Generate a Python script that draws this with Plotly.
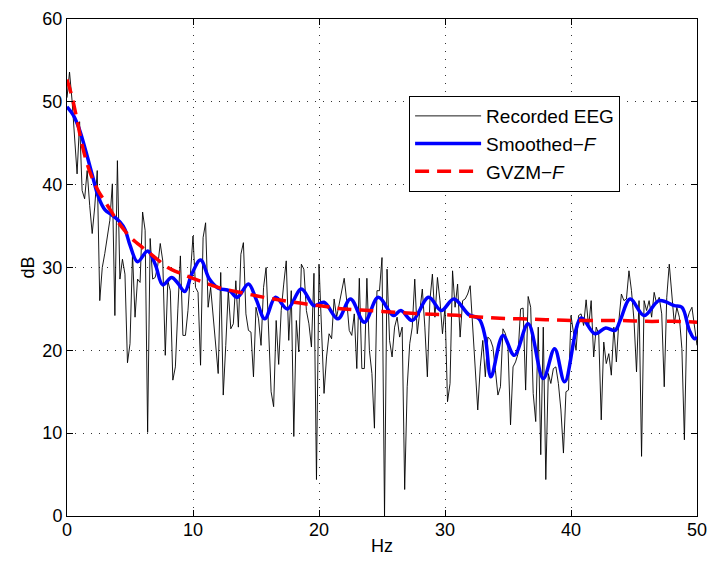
import plotly.graph_objects as go

# Recorded EEG spectrum (dB), sampled every 0.2 Hz from 0 to 50 Hz
eeg_step = 0.2
eeg_db = [
    50.5, 53.6, 50.2, 45.0, 41.3, 47.6, 39.3, 38.3, 41.7, 37.5,
    34.1, 37.3, 41.7, 26.0, 30.0, 31.7, 33.7, 35.7, 40.1, 24.2,
    42.9, 28.6, 31.0, 29.2, 18.5, 20.8, 31.7, 24.0, 28.6, 28.2,
    36.7, 34.5, 10.1, 33.5, 28.6, 28.8, 30.2, 32.9, 30.8, 19.4,
    28.4, 27.2, 16.4, 18.0, 25.0, 31.4, 21.8, 21.8, 24.8, 29.4,
    33.8, 27.6, 27.0, 18.2, 33.6, 35.4, 25.2, 27.6, 24.0, 20.0,
    17.2, 29.4, 14.6, 20.6, 27.2, 22.6, 23.2, 28.4, 22.8, 31.6,
    33.0, 24.4, 22.4, 22.2, 16.8, 25.2, 23.8, 20.6, 27.6, 30.0,
    21.2, 15.0, 13.2, 23.6, 18.3, 24.8, 28.0, 30.8, 21.2, 27.2,
    9.6, 23.6, 19.8, 30.4, 29.8, 24.8, 23.2, 20.4, 29.3, 4.4,
    30.4, 22.8, 14.8, 19.2, 22.0, 21.4, 26.2, 24.0, 25.6, 26.8,
    28.7, 26.0, 22.4, 21.8, 24.4, 17.8, 28.7, 17.8, 17.8, 28.7,
    20.0, 17.2, 10.6, 27.2, 27.2, 31.2, 0.0, 29.8, 21.2, 19.2,
    22.8, 24.0, 21.6, 22.8, 3.2, 15.6, 20.8, 22.8, 28.6, 22.0,
    24.8, 27.4, 22.8, 16.8, 26.0, 29.2, 24.0, 28.8, 26.0, 22.0,
    25.2, 13.8, 16.0, 29.6, 25.2, 28.0, 21.6, 26.0, 26.2, 26.8,
    27.8, 22.8, 16.4, 12.8, 18.0, 21.2, 16.8, 21.6, 21.3, 20.4,
    17.6, 14.6, 15.6, 22.6, 22.0, 20.4, 11.0, 18.0, 18.6, 19.6,
    25.0, 25.1, 15.2, 26.5, 25.2, 14.8, 11.4, 22.8, 7.4, 22.8,
    4.4, 17.2, 16.0, 17.8, 18.0, 16.0, 12.8, 7.6, 15.0, 15.2,
    24.2, 22.0, 20.0, 24.2, 24.4, 23.0, 26.1, 22.8, 26.0, 19.2,
    22.8, 22.0, 11.6, 21.0, 18.4, 19.6, 17.0, 22.8, 18.6, 23.6,
    26.8, 26.0, 26.2, 29.6, 27.2, 23.6, 17.4, 26.0, 7.2, 26.0,
    24.8, 26.0, 24.0, 27.0, 25.6, 26.4, 24.4, 15.6, 26.4, 30.4,
    26.8, 23.2, 25.2, 24.0, 20.2, 9.2, 23.6, 24.6, 25.2, 23.2,
    20.6,
]
eeg_hz = [round(i * eeg_step, 1) for i in range(len(eeg_db))]

# Smoothed-F curve (key points)
smooth_hz = [0.0, 0.5, 1.0, 1.5, 2.0, 2.5, 3.0, 3.6, 4.2, 4.6, 5.0, 5.6, 6.4, 7.0,
             7.6, 8.3, 8.8, 9.35, 9.9, 10.6, 11.3, 12.0, 12.9, 13.5, 14.4, 15.0,
             15.7, 16.55, 17.5, 18.6, 19.6, 20.4, 21.5, 22.5, 23.6, 24.7, 25.9,
             26.5, 27.4, 28.7, 29.7, 30.7, 31.9, 32.7, 33.2, 33.65, 34.6, 35.5,
             36.6, 37.8, 38.7, 39.5, 40.8, 41.9, 42.75, 43.5, 43.9, 44.7, 45.8,
             47.0, 48.2, 48.8, 49.4, 49.8, 50.0]
smooth_db = [49.4, 48.4, 46.6, 44.0, 41.2, 38.5, 37.0, 36.3, 35.5, 34.6, 32.7, 30.7,
             32.0, 30.4, 27.9, 28.8, 28.1, 27.1, 29.2, 30.9, 28.6, 27.5, 27.2, 26.4,
             28.0, 26.2, 23.8, 26.4, 25.0, 27.4, 25.4, 25.8, 23.8, 26.2, 23.4, 26.4,
             24.2, 24.8, 23.6, 26.4, 24.8, 26.2, 24.3, 23.8, 21.5, 16.8, 21.8, 19.4,
             23.2, 16.6, 20.2, 16.2, 23.9, 22.0, 22.7, 22.4, 23.6, 26.2, 24.2, 26.0,
             25.4, 25.2, 22.4, 21.4, 21.6]

# GVZM-F fit
gvzm_hz = [0.0, 0.4, 0.8, 1.2, 1.6, 2.0, 2.5, 3.0, 3.5, 4.0, 4.5, 5.0, 6.0, 7.0, 8.0,
           9.0, 10.0, 12.0, 14.0, 16.0, 18.0, 20.0, 22.0, 24.0, 26.0, 28.0, 30.0,
           32.0, 34.0, 36.0, 38.0, 40.0, 42.0, 44.0, 46.0, 48.0, 50.0]
gvzm_db = [52.7, 50.6, 47.8, 44.8, 42.5, 40.8, 39.2, 38.0, 36.8, 35.6, 34.6, 33.7,
           32.4, 31.2, 30.0, 29.3, 28.7, 27.6, 26.9, 26.3, 25.8, 25.4, 25.0, 24.8,
           24.6, 24.4, 24.3, 24.1, 23.9, 23.8, 23.7, 23.6, 23.6, 23.6, 23.5, 23.5, 23.4]

x_ticks = [0, 10, 20, 30, 40, 50]
y_ticks = [0, 10, 20, 30, 40, 50, 60]

FONT = "Liberation Sans, Arial, sans-serif"

fig = go.Figure()
fig.add_trace(go.Scatter(x=eeg_hz, y=eeg_db, mode="lines", name="Recorded EEG",
                         legendgroup="a",
                         line=dict(color="black", width=0.9)))
fig.add_trace(go.Scatter(x=smooth_hz, y=smooth_db, mode="lines", name="Smoothed−<i>F</i>",
                         legendgroup="b",
                         line=dict(color="rgb(0,0,255)", width=3.5, shape="spline", smoothing=1)))
fig.add_trace(go.Scatter(x=gvzm_hz, y=gvzm_db, mode="lines", name="GVZM−<i>F</i>",
                         legendgroup="c",
                         line=dict(color="rgb(255,0,0)", width=3.5, shape="spline",
                                   smoothing=1, dash="14px,8px")))

axis_common = dict(
    showline=True, linecolor="black", linewidth=1, mirror="ticks",
    ticks="inside", ticklen=6, tickcolor="black", tickwidth=1,
    showgrid=True, gridcolor="#333333", gridwidth=1, griddash="1px,7px",
    zeroline=False, automargin=False,
    tickfont=dict(family=FONT, size=18, color="black"),
)

fig.update_layout(
    template="none",
    width=709, height=567,
    margin=dict(l=67, r=12, t=19, b=51),
    paper_bgcolor="white", plot_bgcolor="white",
    font=dict(family=FONT, size=18, color="black"),
    xaxis=dict(range=[0, 50], tickvals=x_ticks, ticktext=[str(v) for v in x_ticks],
               title=dict(text="Hz", font=dict(family=FONT, size=18), standoff=0),
               ticklabelstandoff=-3,
               **axis_common),
    yaxis=dict(range=[0, 60], tickvals=y_ticks, ticktext=[str(v) for v in y_ticks],
               title=dict(text="dB", font=dict(family=FONT, size=18), standoff=3),
               **axis_common),
    legend=dict(x=0.543, y=0.845, xanchor="left", yanchor="top",
                bgcolor="white", bordercolor="black", borderwidth=1,
                font=dict(family=FONT, size=19, color="black"),
                tracegroupgap=0, itemwidth=66),
    showlegend=True,
)

fig.write_html("out.html")
